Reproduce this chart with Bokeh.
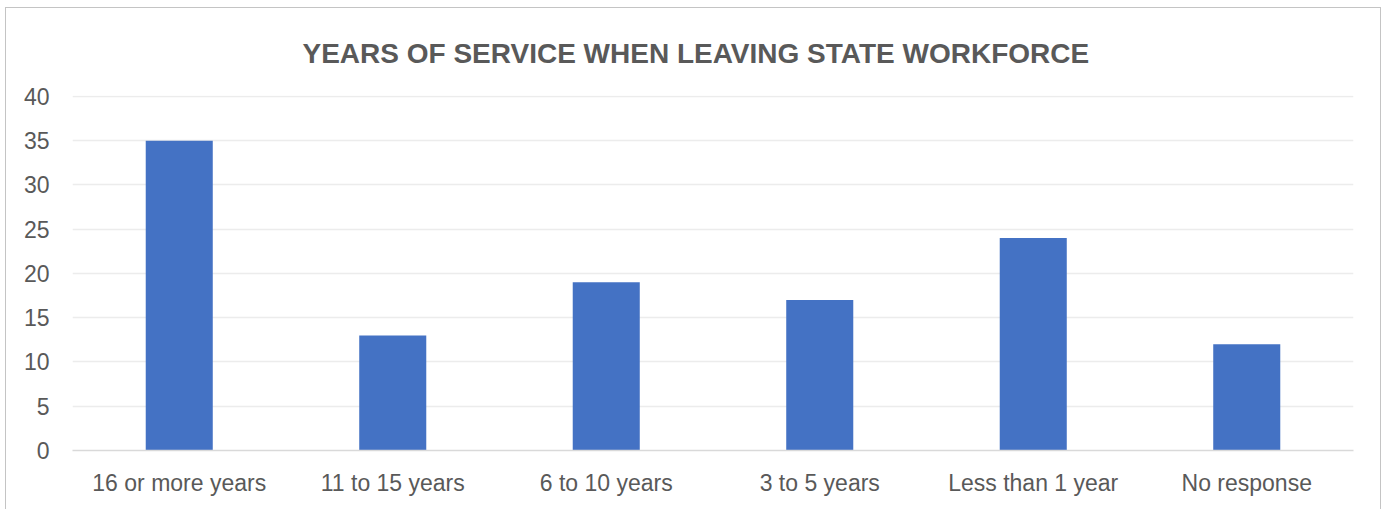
from bokeh.plotting import figure
from bokeh.models import ColumnDataSource, FixedTicker, Range1d
from bokeh.embed import file_html
from bokeh.resources import INLINE

categories = ["16 or more years", "11 to 15 years", "6 to 10 years", "3 to 5 years", "Less than 1 year", "No response"]
counts = [35, 13, 19, 17, 24, 12]
y_ticks = [0, 5, 10, 15, 20, 25, 30, 35, 40]
title_text = "YEARS OF SERVICE WHEN LEAVING STATE WORKFORCE"

FONT = "Liberation Sans"
TXT = "#595959"

src = ColumnDataSource(data=dict(cat=categories, val=counts))

p = figure(x_range=categories, y_range=Range1d(0, 40.1),
           width=1376, height=502, output_backend="svg", toolbar_location=None,
           min_border_left=66, min_border_right=29, min_border_top=87, min_border_bottom=60)
p.styles = {"border": "1px solid #c4c4c4", "border-bottom": "none", "margin": "7px 0 0 5px"}

p.vbar(x="cat", top="val", width=0.314, source=src, color="#4472C4", line_color=None)

p.outline_line_color = None
p.background_fill_color = "white"
p.border_fill_color = "white"

p.title.text = title_text
p.title.align = "left"
p.title.text_font = FONT
p.title.text_font_size = "28px"
p.title.text_font_style = "bold"
p.title.text_color = TXT
p.title.standoff = 53
p.title.offset = 230

p.xgrid.grid_line_color = None
p.ygrid.grid_line_color = "#ececec"
p.ygrid.grid_line_width = 1.5
p.yaxis.ticker = FixedTicker(ticks=y_ticks)
p.yaxis.axis_line_color = None
p.yaxis.major_tick_line_color = None
p.yaxis.minor_tick_line_color = None
p.yaxis.major_tick_out = 0
p.yaxis.major_label_standoff = 23
p.yaxis.major_label_text_font = FONT
p.yaxis.major_label_text_font_size = "23px"
p.yaxis.major_label_text_color = TXT

p.xaxis.axis_line_color = "#d9d9d9"
p.xaxis.axis_line_width = 1.5
p.xaxis.major_tick_line_color = None
p.xaxis.minor_tick_line_color = None
p.xaxis.major_tick_out = 0
p.xaxis.major_label_standoff = 19
p.xaxis.major_label_text_font = FONT
p.xaxis.major_label_text_font_size = "23px"
p.xaxis.major_label_text_color = TXT

open("out.html", "w").write(file_html(p, INLINE))
